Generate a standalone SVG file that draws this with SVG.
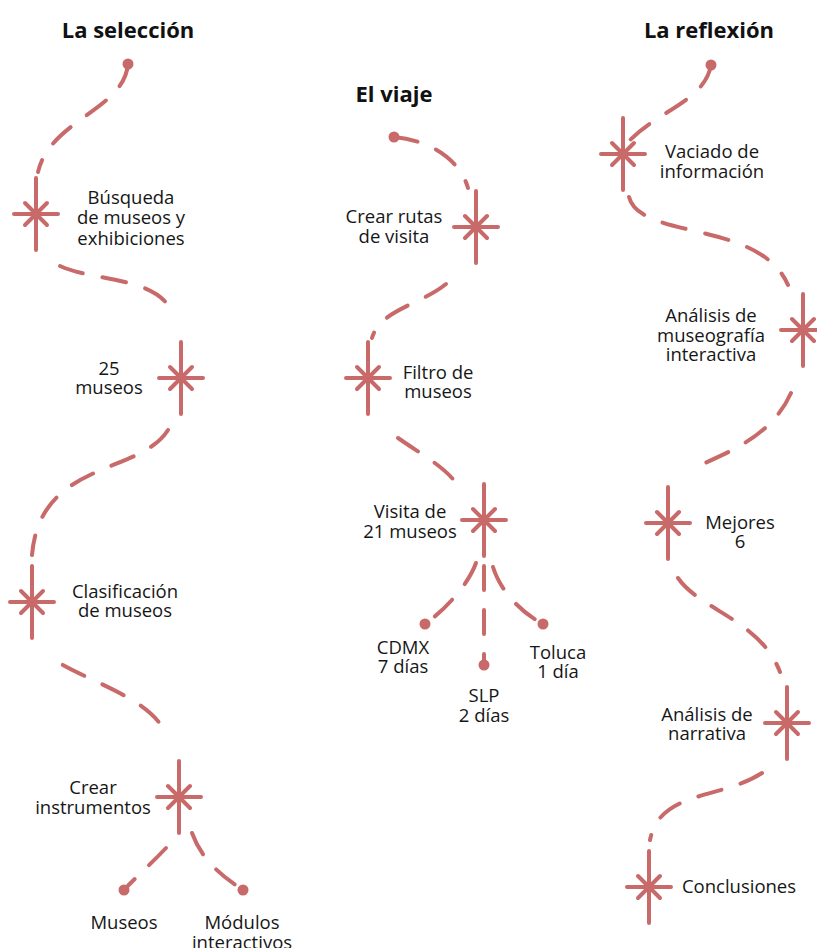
<svg xmlns="http://www.w3.org/2000/svg" width="817" height="948" viewBox="0 0 817 948">
<style>
.bg{fill:#ffffff}
.c{fill:none;stroke:#c96a6a;stroke-width:4;stroke-linecap:round;stroke-dasharray:24 20}
.s{fill:none;stroke:#c96a6a;stroke-width:4;stroke-linecap:round}
.d{fill:#c96a6a}
.t{font-family:"Open Sans","Noto Sans",sans-serif;font-size:18.5px;fill:#161616;text-anchor:middle}
.h{font-family:"Open Sans","Noto Sans",sans-serif;font-size:22px;font-weight:bold;fill:#111;text-anchor:middle}
</style>
<defs>
<path id="star" d="M0,-36 V36 M-22,0 H22 M-11,-11 L11,11 M11,-11 L-11,11"/>
</defs>
<rect class="bg" width="817" height="948"/>
<g id="titles">
<text class="h" x="128" y="38">La selección</text>
<text class="h" x="394" y="102">El viaje</text>
<text class="h" x="709" y="38">La reflexión</text>
</g>
<g id="connectors">
<path class="c" d="M128,64 C124,110 50,120 38,172"/>
<path class="c" d="M60,266 C95,282 160,276 174,316"/>
<path class="c" d="M168,430 C140,475 40,460 32,555"/>
<path class="c" d="M61,664 C105,688 150,700 168,736" stroke-dashoffset="-2"/>
<path class="c" d="M166,848 C150,865 135,878 124,890"/>
<path class="c" d="M192,833 C200,855 215,872 243,890"/>
<path class="c" d="M394,137 C430,140 460,160 468,188"/>
<path class="c" d="M446,284 C420,305 380,310 372,338"/>
<path class="c" d="M398,438 C430,460 450,470 462,492"/>
<path class="c" d="M476,563 C468,585 445,610 425,624"/>
<path class="c" d="M484,566 L484,665"/>
<path class="c" d="M493,567 C500,590 520,612 543,624"/>
<path class="c" d="M711,65 C705,100 660,110 630,140"/>
<path class="c" d="M629,197 C640,240 760,220 788,285"/>
<path class="c" d="M791,393 C770,440 720,455 690,470"/>
<path class="c" d="M678,578 C700,610 760,620 780,672"/>
<path class="c" d="M762,773 C720,800 660,790 650,840"/>
</g>
<g id="dots">
<circle class="d" cx="128" cy="64" r="5.5"/>
<circle class="d" cx="394" cy="137" r="5.5"/>
<circle class="d" cx="711" cy="65" r="5.5"/>
<circle class="d" cx="124" cy="890" r="5.5"/>
<circle class="d" cx="243" cy="890" r="5.5"/>
<circle class="d" cx="425" cy="624" r="5.5"/>
<circle class="d" cx="484" cy="665" r="5.5"/>
<circle class="d" cx="543" cy="624" r="5.5"/>
</g>
<g id="n-busqueda">
<use href="#star" class="s" x="36" y="214"/>
<text class="t" x="131" y="204">Búsqueda</text>
<text class="t" x="131" y="224">de museos y</text>
<text class="t" x="131" y="245">exhibiciones</text>
</g>
<g id="n-25museos">
<use href="#star" class="s" x="181" y="378"/>
<text class="t" x="109" y="375">25</text>
<text class="t" x="109" y="394">museos</text>
</g>
<g id="n-clasificacion">
<use href="#star" class="s" x="32" y="602"/>
<text class="t" x="125" y="598">Clasificación</text>
<text class="t" x="125" y="617">de museos</text>
</g>
<g id="n-instrumentos">
<use href="#star" class="s" x="179" y="797"/>
<text class="t" x="93" y="794">Crear</text>
<text class="t" x="93" y="814">instrumentos</text>
</g>
<g id="n-museos">
<text class="t" x="124" y="929">Museos</text>
</g>
<g id="n-modulos">
<text class="t" x="242" y="929">Módulos</text>
<text class="t" x="242" y="949">interactivos</text>
</g>
<g id="n-rutas">
<use href="#star" class="s" x="476" y="227"/>
<text class="t" x="394" y="223">Crear rutas</text>
<text class="t" x="394" y="243">de visita</text>
</g>
<g id="n-filtro">
<use href="#star" class="s" x="368" y="378"/>
<text class="t" x="438" y="379">Filtro de</text>
<text class="t" x="438" y="398">museos</text>
</g>
<g id="n-visita">
<use href="#star" class="s" x="484" y="520"/>
<text class="t" x="410" y="518">Visita de</text>
<text class="t" x="410" y="538">21 museos</text>
</g>
<g id="n-cdmx">
<text class="t" x="403" y="654">CDMX</text>
<text class="t" x="403" y="673">7 días</text>
</g>
<g id="n-slp">
<text class="t" x="484" y="702">SLP</text>
<text class="t" x="484" y="722">2 días</text>
</g>
<g id="n-toluca">
<text class="t" x="558" y="659">Toluca</text>
<text class="t" x="558" y="678">1 día</text>
</g>
<g id="n-vaciado">
<use href="#star" class="s" x="623" y="154"/>
<text class="t" x="712" y="158">Vaciado de</text>
<text class="t" x="712" y="178">información</text>
</g>
<g id="n-museografia">
<use href="#star" class="s" x="803" y="330"/>
<text class="t" x="711" y="322">Análisis de</text>
<text class="t" x="711" y="342">museografía</text>
<text class="t" x="711" y="361">interactiva</text>
</g>
<g id="n-mejores">
<use href="#star" class="s" x="668" y="523"/>
<text class="t" x="740" y="529">Mejores</text>
<text class="t" x="740" y="548">6</text>
</g>
<g id="n-narrativa">
<use href="#star" class="s" x="787" y="723"/>
<text class="t" x="707" y="721">Análisis de</text>
<text class="t" x="707" y="740">narrativa</text>
</g>
<g id="n-conclusiones">
<use href="#star" class="s" x="649" y="887"/>
<text class="t" x="739" y="893">Conclusiones</text>
</g>
</svg>
